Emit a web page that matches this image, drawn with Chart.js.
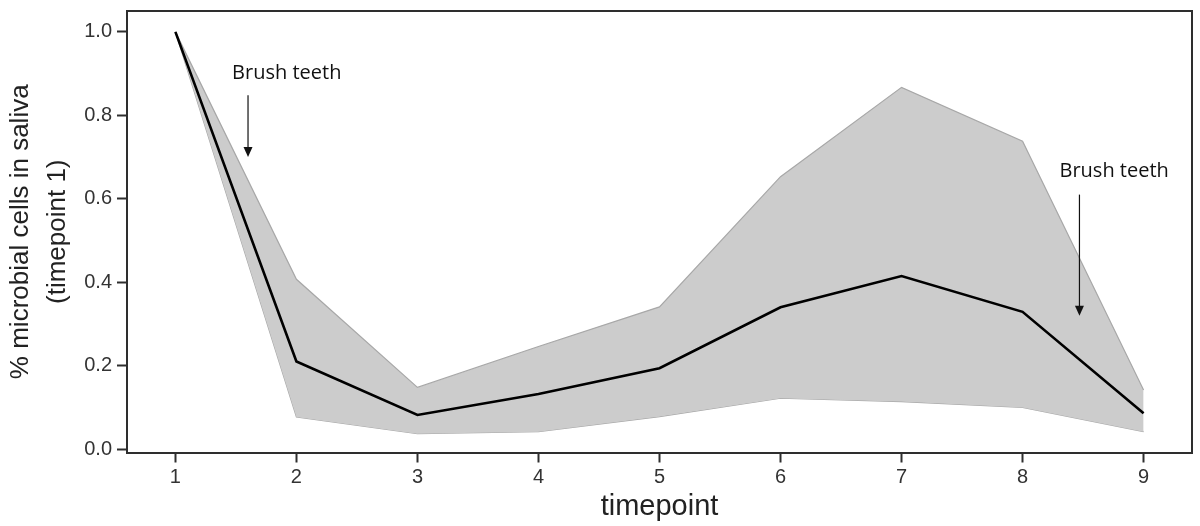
<!DOCTYPE html>
<html>
<head>
<meta charset="utf-8">
<title>Microbial cells in saliva</title>
<script src="https://cdn.jsdelivr.net/npm/chart.js@4.4.1/dist/chart.umd.min.js"></script>
<style>
  html, body { margin: 0; padding: 0; background: #fff; }
  #wrap { width: 1200px; height: 526px; }
</style>
</head>
<body>
<div id="wrap"><canvas id="myChart" width="1200" height="526"></canvas></div>
<script>
// values
var timepoints = [1, 2, 3, 4, 5, 6, 7, 8, 9];
var meanValues = [1.0, 0.21, 0.082, 0.132, 0.194, 0.340, 0.415, 0.329, 0.086];
var upperValues = [1.0, 0.407, 0.148, 0.246, 0.341, 0.653, 0.867, 0.738, 0.142];
var lowerValues = [1.0, 0.077, 0.037, 0.042, 0.078, 0.122, 0.114, 0.100, 0.042];
var yTicks = [0.0, 0.2, 0.4, 0.6, 0.8, 1.0];

// "Brush teeth" notes, in data units
var notes = [
    { text: 'Brush teeth', tx: 1.92, ty: 0.90, ax: 1.6, ay0: 0.848, ay1: 0.70 },
    { text: 'Brush teeth', tx: 8.757, ty: 0.665, ax: 8.47, ay0: 0.61, ay1: 0.32 }
];

function pts(arr) {
    return timepoints.map(function (t, i) { return { x: t, y: arr[i] }; });
}

var frameColor = '#2e2e2e';

// top + right edge of the box
var framePlugin = {
    id: 'frame',
    afterDraw: function (chart) {
        var a = chart.chartArea, ctx = chart.ctx;
        ctx.save();
        ctx.strokeStyle = frameColor;
        ctx.lineWidth = 2;
        ctx.beginPath();
        ctx.moveTo(a.left, a.top);
        ctx.lineTo(a.right, a.top);
        ctx.lineTo(a.right, a.bottom);
        ctx.stroke();
        ctx.restore();
    }
};

var notePlugin = {
    id: 'notes',
    afterDatasetsDraw: function (chart) {
        var ctx = chart.ctx, xs = chart.scales.x, ys = chart.scales.y;
        ctx.save();
        notes.forEach(function (n) {
            ctx.fillStyle = '#111';
            ctx.font = '20px "Open Sans"';
            ctx.textAlign = 'center';
            ctx.textBaseline = 'middle';
            ctx.fillText(n.text, xs.getPixelForValue(n.tx), ys.getPixelForValue(n.ty));

            var x = xs.getPixelForValue(n.ax);
            var y0 = ys.getPixelForValue(n.ay0);
            var y1 = ys.getPixelForValue(n.ay1);
            ctx.strokeStyle = '#111';
            ctx.lineWidth = 1.2;
            ctx.beginPath();
            ctx.moveTo(x, y0);
            ctx.lineTo(x, y1 - 8);
            ctx.stroke();
            ctx.beginPath();
            ctx.moveTo(x, y1);
            ctx.lineTo(x - 4.5, y1 - 10);
            ctx.lineTo(x + 4.5, y1 - 10);
            ctx.closePath();
            ctx.fill();
        });
        ctx.restore();
    }
};

var ctx1 = document.getElementById('myChart');
var myChart = new Chart(ctx1, {
    type: 'line',
    data: {
        datasets: [
            {
                label: 'mean',
                data: pts(meanValues),
                borderColor: '#000',
                borderWidth: 2.6,
                fill: false,
                pointRadius: 0,
                tension: 0
            },
            {
                label: 'upper',
                data: pts(upperValues),
                borderColor: '#a8a8a8',
                borderWidth: 1.2,
                backgroundColor: '#cccccc',
                fill: '+1',
                pointRadius: 0,
                tension: 0
            },
            {
                label: 'lower',
                data: pts(lowerValues),
                borderColor: '#a8a8a8',
                borderWidth: 1.2,
                fill: false,
                pointRadius: 0,
                tension: 0
            }
        ]
    },
    options: {
        responsive: false,
        animation: false,
        layout: { padding: { top: 11, right: 8, left: 0, bottom: 0 } },
        plugins: {
            legend: { display: false },
            tooltip: { enabled: false }
        },
        scales: {
            x: {
                type: 'linear',
                min: 0.6,
                max: 9.4,
                afterBuildTicks: function (scale) {
                    scale.ticks = timepoints.map(function (v) { return { value: v }; });
                },
                afterFit: function (scale) {
                    scale.height = 73.5;
                    scale.paddingLeft = 0;
                    scale.paddingRight = 0;
                },
                grid: {
                    drawOnChartArea: false,
                    tickLength: 10,
                    tickColor: frameColor,
                    tickWidth: 2
                },
                border: { color: frameColor, width: 2 },
                ticks: {
                    color: '#333',
                    padding: 3,
                    maxRotation: 0,
                    font: { family: '"Liberation Sans", Arial', size: 20 }
                },
                title: {
                    display: true,
                    text: 'timepoint',
                    color: '#222',
                    padding: { top: 0, bottom: 2 },
                    font: { family: '"Liberation Sans", Arial', size: 29 }
                }
            },
            y: {
                min: -0.008,
                max: 1.05,
                afterBuildTicks: function (scale) {
                    scale.ticks = yTicks.map(function (v) { return { value: v }; });
                },
                afterFit: function (scale) {
                    scale.width = 127;
                    scale.paddingTop = 0;
                    scale.paddingBottom = 0;
                },
                grid: {
                    drawOnChartArea: false,
                    tickLength: 10,
                    tickColor: frameColor,
                    tickWidth: 2
                },
                border: { color: frameColor, width: 2 },
                ticks: {
                    color: '#333',
                    padding: 5,
                    font: { family: '"Liberation Sans", Arial', size: 20 },
                    callback: function (v) { return v.toFixed(1); }
                },
                title: {
                    display: true,
                    text: ['% microbial cells in saliva', '(timepoint 1)'],
                    color: '#222',
                    padding: { top: 3, bottom: 0 },
                    font: { family: '"Liberation Sans", Arial', size: 26, lineHeight: 1.4 }
                }
            }
        }
    },
    plugins: [framePlugin, notePlugin]
});
</script>
</body>
</html>
